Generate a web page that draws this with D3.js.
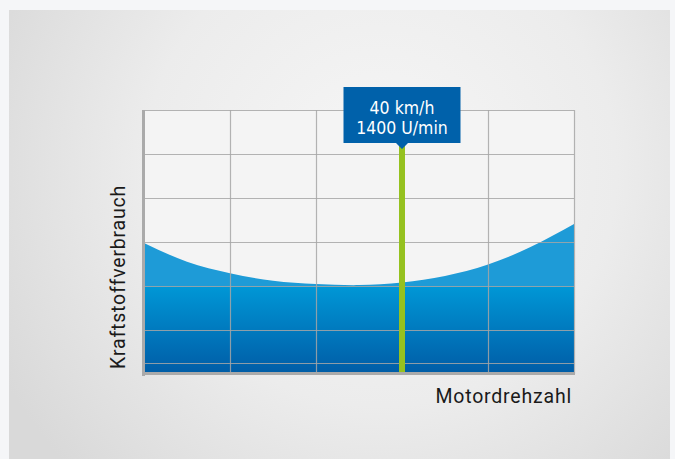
<!DOCTYPE html>
<html>
<head>
<meta charset="utf-8">
<script src="https://cdn.jsdelivr.net/npm/d3@7"></script>
<style>
  body { margin: 0; background: #f5f6f8; }
  svg { display: block; }
</style>
</head>
<body>
<svg id="chart" width="675" height="459"></svg>
<script>
// chart values (x in grid columns, y in grid rows)
var curveX = [0, 0.5, 1, 1.5, 2, 2.5, 3, 3.5, 4, 4.5, 5];
var curveY = [2.98, 2.55, 2.29, 2.12, 2.045, 2.02, 2.08, 2.23, 2.49, 2.89, 3.41];
var xGrid = [1, 2, 4, 5];
var yGrid = [0.25, 1, 2, 3, 4, 5, 6];
var markerX = 3;
var markerLines = ["40 km/h", "1400 U/min"];
var xLabel = "Motordrehzahl";
var yLabel = "Kraftstoffverbrauch";

var svg = d3.select("#chart");
var plot = {left: 144, right: 574, top: 110, bottom: 374};

var x = d3.scaleLinear().domain([0, 5]).range([plot.left, plot.right]);
var y = d3.scaleLinear().domain([0, 6]).range([plot.bottom, plot.top]);

var defs = svg.append("defs");

// panel background
var bg = defs.append("radialGradient").attr("id", "panelBg")
  .attr("gradientUnits", "userSpaceOnUse")
  .attr("cx", 380).attr("cy", 170).attr("r", 430);
bg.append("stop").attr("offset", 0).attr("stop-color", "#f6f6f6");
bg.append("stop").attr("offset", 0.55).attr("stop-color", "#ececec");
bg.append("stop").attr("offset", 1).attr("stop-color", "#d9d9d9");

// area fill: flat light blue above, darker gradient below
var fillGrad = defs.append("linearGradient").attr("id", "areaFill")
  .attr("gradientUnits", "userSpaceOnUse")
  .attr("x1", 0).attr("x2", 0).attr("y1", y(3.5)).attr("y2", y(0));
var gy = function(v) { return (y(v) - y(3.5)) / (y(0) - y(3.5)); };
fillGrad.append("stop").attr("offset", 0).attr("stop-color", "#1e9bd7");
fillGrad.append("stop").attr("offset", gy(2.01)).attr("stop-color", "#1e9bd7");
fillGrad.append("stop").attr("offset", gy(1.99)).attr("stop-color", "#0097d6");
fillGrad.append("stop").attr("offset", 1).attr("stop-color", "#005ca6");

svg.append("rect")
  .attr("x", 9).attr("y", 10).attr("width", 661).attr("height", 460)
  .attr("fill", "url(#panelBg)");

// plot area background
svg.append("rect")
  .attr("x", plot.left).attr("y", plot.top)
  .attr("width", plot.right - plot.left).attr("height", plot.bottom - plot.top)
  .attr("fill", "#f4f4f4");

// the curve
var area = d3.area()
  .x(function(d, i) { return x(curveX[i]); })
  .y0(y(0))
  .y1(function(d) { return y(d); })
  .curve(d3.curveNatural);

svg.append("path")
  .datum(curveY)
  .attr("d", area)
  .attr("fill", "url(#areaFill)");

// gridlines on top
svg.append("g")
  .selectAll("line.h")
  .data(yGrid)
  .enter().append("line")
    .attr("x1", plot.left).attr("x2", plot.right)
    .attr("y1", function(d) { return Math.round(y(d)) + 0.5; })
    .attr("y2", function(d) { return Math.round(y(d)) + 0.5; })
    .attr("stroke", "#a6a6a6").attr("stroke-opacity", 0.85).attr("stroke-width", 1.2);

svg.append("g")
  .selectAll("line.v")
  .data(xGrid)
  .enter().append("line")
    .attr("x1", function(d) { return Math.round(x(d)) + 0.5; })
    .attr("x2", function(d) { return Math.round(x(d)) + 0.5; })
    .attr("y1", plot.top).attr("y2", plot.bottom)
    .attr("stroke", "#a6a6a6").attr("stroke-opacity", 0.85).attr("stroke-width", 1.2);

// axes
svg.append("line")
  .attr("x1", plot.left - 0.5).attr("x2", plot.left - 0.5)
  .attr("y1", plot.top).attr("y2", plot.bottom + 2)
  .attr("stroke", "#aaaaaa").attr("stroke-width", 3);
svg.append("line")
  .attr("x1", plot.left - 2).attr("x2", plot.right + 1)
  .attr("y1", plot.bottom - 0.5).attr("y2", plot.bottom - 0.5)
  .attr("stroke", "#aaaaaa").attr("stroke-width", 3);

// marker line
var mx = x(markerX);
svg.append("line")
  .attr("x1", mx).attr("x2", mx)
  .attr("y1", 146).attr("y2", plot.bottom - 2)
  .attr("stroke", "#95c11f").attr("stroke-width", 6);

// label box with pointer
var box = {w: 117, h: 56, top: 87};
svg.append("path")
  .attr("d", "M" + (mx - box.w / 2) + "," + box.top +
             "h" + box.w + "v" + box.h +
             "H" + (mx + 6) + "L" + mx + "," + (box.top + box.h + 6) +
             "L" + (mx - 6) + "," + (box.top + box.h) +
             "H" + (mx - box.w / 2) + "Z")
  .attr("fill", "#0061aa");

svg.append("g")
  .selectAll("text")
  .data(markerLines)
  .enter().append("text")
    .attr("x", mx)
    .attr("y", function(d, i) { return 114 + i * 19.5; })
    .attr("text-anchor", "middle")
    .attr("fill", "#ffffff")
    .style("font-family", "'DejaVu Sans Condensed', 'Roboto', sans-serif")
    .style("font-size", "17.5px")
    .text(function(d) { return d; });

// axis titles
svg.append("text")
  .attr("x", plot.right - 2).attr("y", 403)
  .attr("text-anchor", "end")
  .attr("fill", "#1a1a1a")
  .style("font-family", "Roboto, sans-serif")
  .style("font-size", "19.5px")
  .style("letter-spacing", "0.8px")
  .text(xLabel);

svg.append("text")
  .attr("transform", "translate(125," + (plot.bottom - 5) + ") rotate(-90)")
  .attr("text-anchor", "start")
  .attr("fill", "#1a1a1a")
  .style("font-family", "Roboto, sans-serif")
  .style("font-size", "19.5px")
  .style("letter-spacing", "0.8px")
  .text(yLabel);
</script>
</body>
</html>
